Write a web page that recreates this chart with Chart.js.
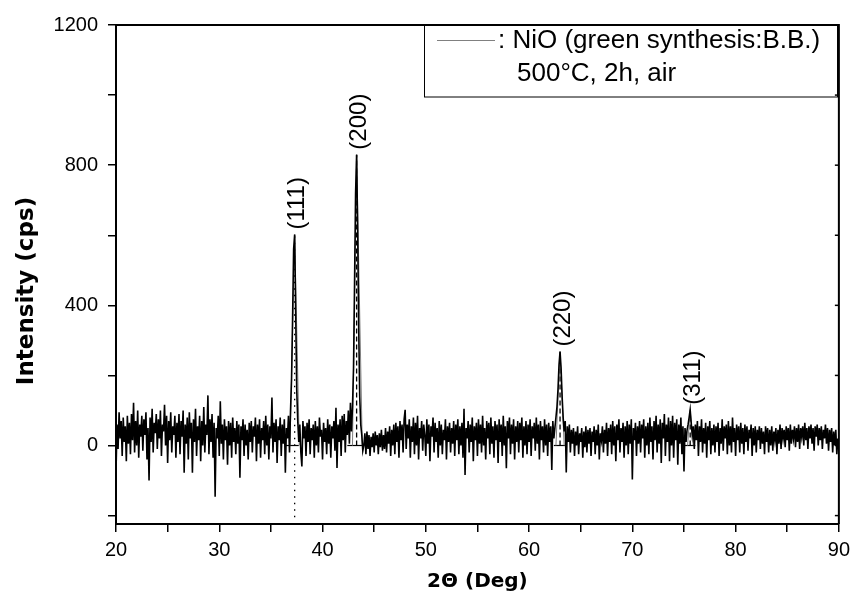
<!DOCTYPE html>
<html>
<head>
<meta charset="utf-8">
<script src="https://cdn.jsdelivr.net/npm/chart.js@4"></script>
<style>
  html, body { margin: 0; padding: 0; background: #fff; }
  canvas { display: block; }
</style>
</head>
<body>
<canvas id="xrd" width="856" height="600"></canvas>
<script>
// scan grid (deg 2theta)
const scanStart = 20;
const scanStep = 0.1;

// measured intensity (cps), one row per degree, 20.0 ... 90.0
const intensity = [
  -78, 60, -10, 95, 20, 70, -30, 80, 10, 55,
  -45, 85, 5, 65, -25, 90, 15, 122, -20, 70,
  0, 100, -35, 60, 25, 85, -15, 75, 30, 95,
  -40, 50, -100, 80, 10, 105, -20, 65, 35, 90,
  -10, 75, 20, 100, -30, 60, 40, 116, 0, 85,
  -50, 70, 15, 95, -20, 55, 30, 85, -35, 65,
  10, 90, -25, 70, 25, 100, -78, 60, 5, 80,
  -40, 95, 20, 65, -78, 75, 10, 105, -30, 55,
  15, 85, -45, 70, 0, 110, -20, 60, 30, 143,
  -25, 75, 10, 90, -35, 65, -146, 50, 20, 85,
  -30, 126, 5, 60, -40, 75, 15, 55, -55, 70,
  0, 65, -35, 80, 10, 50, -25, 70, 5, 60,
  -92, 55, 15, 75, -30, 60, 0, 45, -40, 65,
  10, 70, -20, 55, 25, 80, -45, 60, 5, 75,
  -35, 50, 15, 70, -25, 85, 0, 60, -40, 55,
  20, 137, -20, 65, 10, 75, -50, 55, 15, 80,
  -30, 60, 5, 75, -78, 50, 20, 85, -20, 100,
  190, 360, 560, 602, 380, 160, 70, 10, 60, -20,
  -60, 70, 20, 55, -30, 65, 10, 75, -25, 50,
  15, 60, -35, 70, 0, 55, -20, 80, 25, 45,
  -40, 65, 10, 50, -25, 75, 5, 60, -35, 55,
  20, 70, -15, 108, -64, 60, 10, 75, -30, 85,
  15, 90, -20, 70, 30, 100, 5, 122, 40, 111,
  220, 460, 720, 830, 620, 340, 140, 60, 30, -15,
  0, 35, -25, 40, -10, 30, -30, 25, -5, 35,
  -20, 40, 0, 30, -25, 35, -5, 45, -15, 30,
  -10, 50, -20, 40, 5, 55, -30, 45, 0, 60,
  -25, 65, 10, 55, -35, 70, 15, 60, -20, 75,
  102, -10, 60, 20, 75, -35, 55, 10, 80, -25,
  65, 0, 85, -40, 50, 20, 70, -15, 60, 30,
  -30, 75, 5, 60, -45, 55, 25, 80, -20, 65,
  10, 50, -35, 70, 0, 60, -25, 45, 15, 75,
  -40, 55, 10, 65, -20, 50, 5, 70, -30, 60,
  15, 75, -25, 55, 0, 65, -35, 105, -84, 50,
  20, 70, -20, 60, 10, 80, -45, 55, 15, 65,
  -30, 75, 5, 60, -20, 85, 0, 50, -40, 70,
  20, 65, -25, 80, 5, 55, -35, 70, 15, 60,
  -50, 75, 10, 60, -30, 85, 0, 55, -65, 70,
  20, 80, -25, 60, 5, 75, -40, 55, 10, 70,
  -20, 65, 15, 80, -35, 55, 0, 70, -25, 60,
  10, 75, -30, 55, 20, 65, -15, 80, 5, 60,
  -40, 70, 15, 55, -20, 75, 0, 60, -30, 65,
  10, 55, -70, 70, 20, 50, 80, 110, 160, 230,
  268, 220, 140, 80, 40, 70, -77, 55, 10, 60,
  -20, 45, 5, 50, -30, 40, 0, 55, -25, 35,
  10, 50, -35, 40, -5, 55, -20, 45, 5, 50,
  -30, 40, 10, 55, -25, 45, 0, 60, -40, 35,
  15, 55, -20, 45, 5, 65, -30, 50, 10, 60,
  -25, 70, 0, 55, -45, 60, 15, 75, -20, 50,
  10, 65, -35, 55, 0, 70, -25, 60, 5, 75,
  -97, 50, 15, 65, -30, 55, 5, 70, -20, 60,
  20, 75, -35, 55, 0, 65, -25, 80, 10, 55,
  -40, 70, 15, 85, -20, 60, 5, 75, -50, 65,
  20, 90, -30, 60, 10, 80, -45, 70, 0, 85,
  -35, 65, 15, 75, -55, 60, 5, 80, -25, 55,
  -74, 50, 10, 45, 60, 80, 102, 65, 30, 55,
  -10, 60, 15, 70, -30, 55, 10, 75, -20, 50,
  5, 65, -35, 55, 15, 70, -25, 50, 0, 60,
  -20, 55, 10, 65, -30, 50, 5, 75, -15, 55,
  20, 60, -25, 70, 0, 55, -20, 80, 10, 50,
  -30, 60, 15, 55, -20, 65, 5, 50, -25, 60,
  10, 55, -15, 45, 20, 60, -30, 50, 0, 55,
  -20, 45, 15, 55, -10, 50, 5, 40, -25, 55,
  10, 50, -20, 45, 0, 55, -15, 40, 15, 50,
  -25, 45, 5, 60, -10, 50, 20, 45, -5, 55,
  15, 50, -15, 60, 5, 45, 20, 55, -5, 50,
  10, 60, -10, 50, 25, 55, 0, 65, 15, 50,
  -10, 55, 20, 60, 5, 50, -15, 55, 25, 60,
  0, 50, 15, 55, -10, 45, 20, 60, 5, 50,
  -15, 45, 10, 50, -20, 40, 0, 45, -25, 20,
  -10
];

// peak fit markers
const peakNames = ['(111)', '(200)', '(220)', '(311)'];
const peakPos = [37.3, 43.3, 63.0, 75.6];
const peakHeight = [602, 830, 268, 102];
const baseLeft = [36.4, 42.4, 62.4, 75.1];
const baseRight = [37.7, 43.9, 63.5, 76.1];
const fitLeft = [36.85, 42.9, 62.6, 75.35];
const fitRight = [37.75, 43.85, 63.4, 75.9];
const dropTop = [602, 830, 268, 75];
const dropBottom = [-205, 0, 0, 0];

// axis ticks (labels only on the major ones)
const xTicks = [20, 25, 30, 35, 40, 45, 50, 55, 60, 65, 70, 75, 80, 85, 90];
const xLabels = [20, 30, 40, 50, 60, 70, 80, 90];
const yTicks = [-200, 0, 200, 400, 600, 800, 1000, 1200];
const yLabels = [0, 400, 800, 1200];

const legendLine1 = ': NiO (green synthesis:B.B.)';
const legendLine2 = '500\u00B0C, 2h, air';

const scan = intensity.map((v, i) => ({ x: +(scanStart + i * scanStep).toFixed(1), y: v }));

const datasets = [{
  data: scan,
  borderColor: '#000',
  borderWidth: 1.6,
  pointRadius: 0,
  tension: 0
}];

peakPos.forEach((pos, i) => {
  datasets.push({
    data: [{ x: fitLeft[i], y: 0 }, { x: pos, y: peakHeight[i] }, { x: fitRight[i], y: 0 }],
    borderColor: '#808080',
    borderWidth: 1,
    pointRadius: 0
  });
  datasets.push({
    data: [{ x: baseLeft[i], y: 0 }, { x: baseRight[i], y: 0 }],
    borderColor: '#000',
    borderWidth: 1.2,
    pointRadius: 0
  });
  datasets.push({
    data: [{ x: pos, y: dropBottom[i] }, { x: pos, y: dropTop[i] }],
    borderColor: '#000',
    borderWidth: 1.3,
    borderDash: i === 0 ? [1.5, 5] : [5, 3],
    pointRadius: 0
  });
});

const decor = {
  id: 'decor',
  afterDraw(chart) {
    const { ctx, chartArea: a, scales: { x, y } } = chart;
    ctx.save();
    // top and right frame
    ctx.strokeStyle = '#000';
    ctx.lineWidth = 2;
    ctx.beginPath();
    ctx.moveTo(a.left, a.top);
    ctx.lineTo(a.right, a.top);
    ctx.lineTo(a.right, a.bottom);
    ctx.stroke();
    // inward ticks on the right
    ctx.lineWidth = 1.5;
    yTicks.forEach(v => {
      const py = y.getPixelForValue(v);
      ctx.beginPath();
      ctx.moveTo(a.right, py);
      ctx.lineTo(a.right - 4, py);
      ctx.stroke();
    });

    // legend box
    ctx.lineWidth = 1;
    ctx.strokeRect(424.5, a.top, 413, 72);
    ctx.strokeStyle = '#808080';
    ctx.beginPath();
    ctx.moveTo(437, 40.5);
    ctx.lineTo(495, 40.5);
    ctx.stroke();
    ctx.fillStyle = '#000';
    ctx.font = '26px "Liberation Sans", Arial, sans-serif';
    ctx.textBaseline = 'middle';
    ctx.textAlign = 'left';
    ctx.fillText(legendLine1, 498, 41);
    ctx.fillText(legendLine2, 517, 74);

    // peak labels
    ctx.font = '24px "Liberation Sans", Arial, sans-serif';
    peakNames.forEach((name, i) => {
      const px = x.getPixelForValue(peakPos[i]);
      const py = y.getPixelForValue(peakHeight[i]);
      ctx.save();
      ctx.translate(px + 3, py - 5);
      ctx.rotate(-Math.PI / 2);
      ctx.textAlign = 'left';
      ctx.textBaseline = 'middle';
      ctx.fillText(name, 0, 0);
      ctx.restore();
    });

    // axis titles
    ctx.font = 'bold 23px "DejaVu Sans", Verdana, sans-serif';
    ctx.save();
    ctx.translate(33, 291);
    ctx.rotate(-Math.PI / 2);
    ctx.textAlign = 'center';
    ctx.textBaseline = 'alphabetic';
    ctx.fillText('Intensity (cps)', 0, 0);
    ctx.restore();

    ctx.font = 'bold 20px "DejaVu Sans", Verdana, sans-serif';
    ctx.textAlign = 'center';
    ctx.textBaseline = 'alphabetic';
    ctx.fillText('2\u0398 (Deg)', (a.left + a.right) / 2, 587);
    ctx.restore();
  }
};

const tickFont = { family: '"Liberation Sans", Arial, sans-serif', size: 20 };

new Chart(document.getElementById('xrd'), {
  type: 'line',
  data: { datasets },
  options: {
    responsive: false,
    animation: false,
    events: [],
    layout: { padding: { top: 25, right: 15, left: 0, bottom: 0 } },
    plugins: {
      legend: { display: false },
      tooltip: { enabled: false }
    },
    scales: {
      x: {
        type: 'linear',
        min: 20,
        max: 90,
        afterBuildTicks: s => { s.ticks = xTicks.map(v => ({ value: v })); },
        afterFit: s => { s.height = 76; },
        border: { color: '#000', width: 2 },
        grid: { drawOnChartArea: false, color: '#000', lineWidth: 1.5, tickLength: 8 },
        ticks: {
          autoSkip: false,
          maxRotation: 0,
          padding: 6,
          color: '#000',
          font: tickFont,
          callback: v => (xLabels.includes(v) ? v : '')
        }
      },
      y: {
        min: -224,
        max: 1200,
        afterBuildTicks: s => { s.ticks = yTicks.map(v => ({ value: v })); },
        afterFit: s => { s.width = 116; },
        border: { color: '#000', width: 2 },
        grid: { drawOnChartArea: false, color: '#000', lineWidth: 1.5, tickLength: 8 },
        ticks: {
          autoSkip: false,
          padding: 10,
          color: '#000',
          font: tickFont,
          callback: v => (yLabels.includes(v) ? v : '')
        }
      }
    }
  },
  plugins: [decor]
});
</script>
</body>
</html>
